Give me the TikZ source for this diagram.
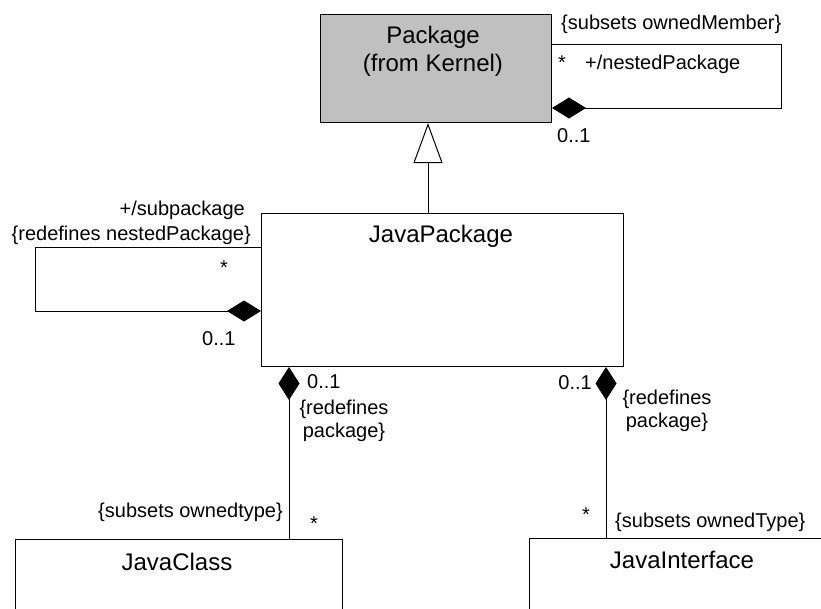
\documentclass[tikz,border=0pt]{standalone}
\usepackage{fontspec}
\setmainfont{Liberation Sans}
\usetikzlibrary{arrows.meta}
\definecolor{pkggray}{RGB}{192,192,192}
\begin{document}
\begin{tikzpicture}[x=1pt,y=-1pt,
  box/.style={draw, line width=1pt, inner sep=0pt},
  big/.style={font=\fontsize{24}{28}\selectfont, inner sep=0pt},
  small/.style={font=\fontsize{20}{23}\selectfont, inner sep=0pt},
  conn/.style={line width=1pt},
  comp/.style={conn, -{Diamond[length=34pt,width=21pt]}},
  compstart/.style={conn, {Diamond[length=33pt,width=21pt]}-},
  gen/.style={conn, -{Triangle[open, length=40pt, width=29pt, fill=white]}}
  ]
\useasboundingbox (0,0) rectangle (821,608);
\clip (0,0) rectangle (821,608);

% classes
\node[box, fill=pkggray, anchor=north west, minimum width=231pt, minimum height=108pt] (pkg) at (320,14) {};
\node[box, anchor=north west, minimum width=362pt, minimum height=153pt] (jp) at (261,213) {};
\node[box, anchor=north west, minimum width=327pt, minimum height=90pt] (jc) at (15,539) {};
\node[box, anchor=north west, minimum width=306pt, minimum height=90pt] (ji) at (529,538) {};

\node[big, align=center, anchor=base] (pkgt) at (433,71.6) {Package\\(from Kernel)};
\node[big, anchor=base] (jpt) at (441,242.6) {JavaPackage};
\node[big, anchor=base] (jct) at (177,570.6) {JavaClass};
\node[big, anchor=base] (jit) at (682,568.6) {JavaInterface};

% self loop on Package
\coordinate (p1) at (781,44);
\coordinate (p2) at (781,108);
\draw[comp] (pkg.east |- p1) -- (p1) -- (p2) -- (pkg.east |- p2);

% self loop on JavaPackage
\coordinate (q1) at (35,247);
\coordinate (q2) at (35,311);
\draw[comp] (jp.west |- q1) -- (q1) -- (q2) -- (jp.west |- q2);

% generalization
\coordinate (gx) at (428,0);
\draw[gen] (jp.north -| gx) -- (pkg.south -| gx);

% compositions
\coordinate (cx) at (289,0);
\coordinate (ix) at (606,0);
\draw[compstart] (jp.south -| cx) -- (jc.north -| cx);
\draw[compstart] (jp.south -| ix) -- (ji.north -| ix);

% labels
\node[small, anchor=base west] (l1) at (561,29) {\{subsets ownedMember\}};
\node[small, anchor=base] (l2) at (562,69) {*};
\node[small, anchor=base west] (l3) at (585,69) {+/nestedPackage};
\node[small, anchor=base west] (l4) at (557,142) {0..1};
\node[small, anchor=base east] (l5) at (245,215) {+/subpackage};
\node[small, anchor=base east] (l6) at (251,240) {\{redefines nestedPackage\}};
\node[small, anchor=base] (l7) at (224,274.5) {*};
\node[small, anchor=base west] (l8) at (202,345) {0..1};
\node[small, anchor=base west] (l9) at (307,388) {0..1};
\node[small, align=center, anchor=base] (l10) at (344,437) {\{redefines\\package\}};
\node[small, anchor=base east] (l11) at (592,389) {0..1};
\node[small, align=center, anchor=base] (l12) at (667,427) {\{redefines\\package\}};
\node[small, anchor=base east] (l13) at (283,517) {\{subsets ownedtype\}};
\node[small, anchor=base] (l14) at (314,530) {*};
\node[small, anchor=base] (l15) at (586,521) {*};
\node[small, anchor=base west] (l16) at (615,527) {\{subsets ownedType\}};
\end{tikzpicture}
\end{document}
